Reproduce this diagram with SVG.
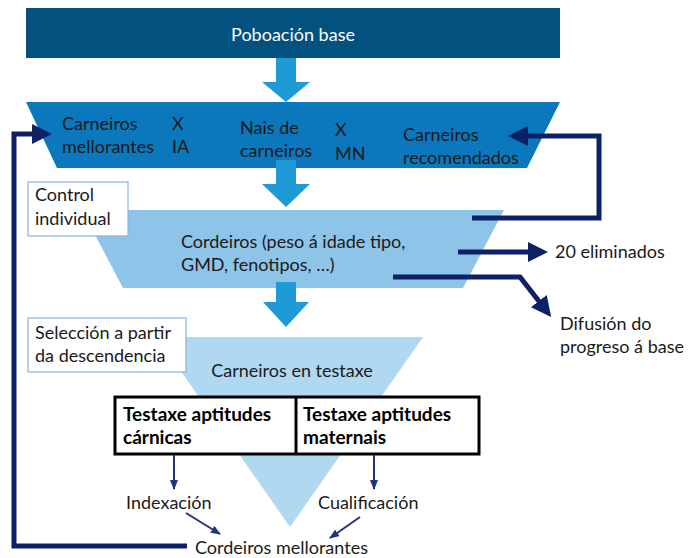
<svg xmlns="http://www.w3.org/2000/svg" width="688" height="558" viewBox="0 0 688 558">
<defs>
<style>
text{font-family:Lato,"Liberation Sans",sans-serif;font-size:18px;fill:#1a1a1a}
.w{fill:#ffffff}
.b{font-weight:bold;fill:#000;font-size:19px}
.big{fill:#1E9AD6}
.nav{fill:none;stroke:#0E2167;stroke-width:5}
.thin{fill:none;stroke:#1F3577;stroke-width:2}
.lab{fill:#fff;stroke:#8DB3E2;stroke-width:1.2}
</style>
<marker id="ah" markerWidth="4" markerHeight="4" refX="2" refY="2" orient="auto" markerUnits="strokeWidth"><path d="M0,0 L4,2 L0,4 Z" fill="#0E2167"/></marker>
<marker id="as" markerWidth="10" markerHeight="8" refX="9" refY="4" orient="auto" markerUnits="userSpaceOnUse"><path d="M0,0 L10,4 L0,8 Z" fill="#1F3577"/></marker>
</defs>
<rect width="688" height="558" fill="#fff"/>
<g id="poboacion"><rect x="26" y="8" width="534" height="50" fill="#02517E"/><text class="w" x="293" y="41" text-anchor="middle">Poboación base</text></g>
<g id="arrow1"><path class="big" d="M276,58 H296 V82 H310 L286,102 L262,82 H276 Z"/></g>
<g id="nivel1"><path d="M26,102 H560 L527,168 H57 Z" fill="#0B77BD"/>
<text x="62" y="130">Carneiros</text><text x="62" y="153">mellorantes</text>
<text x="172" y="130">X</text><text x="172" y="153">IA</text>
<text x="240" y="134">Nais de</text><text x="240" y="157">carneiros</text>
<text x="335" y="136">X</text><text x="335" y="160">MN</text>
<text x="403" y="141">Carneiros</text><text x="403" y="164">recomendados</text></g>
<g id="arrow2"><path class="big" d="M276,160 H296 V184 H310 L286,207 L262,184 H276 Z"/></g>
<g id="nivel2"><path d="M82,210 H504 L463,288 H123 Z" fill="#8EC4E8"/>
<text x="181" y="248">Cordeiros (peso á idade tipo,</text><text x="181" y="271">GMD, fenotipos, …)</text></g>
<g id="control"><rect class="lab" x="28" y="182" width="100" height="54"/><text x="35" y="201">Control</text><text x="35" y="225">individual</text></g>
<g id="arrow3"><path class="big" d="M276,282 H296 V302 H309 L286,327 L263,302 H276 Z"/></g>
<g id="nivel3"><path d="M157,337 H423 L290,527 Z" fill="#B0D8F0"/><text x="292" y="377" text-anchor="middle">Carneiros en testaxe</text></g>
<g id="seleccion"><rect class="lab" x="28" y="318" width="158" height="54"/><text x="35" y="339">Selección a partir</text><text x="35" y="362">da descendencia</text></g>
<g id="testaxe"><rect x="115" y="397" width="364" height="57" fill="#fff" stroke="#000" stroke-width="3"/><line x1="296" y1="397" x2="296" y2="454" stroke="#000" stroke-width="3"/>
<text class="b" x="123" y="421">Testaxe aptitudes</text><text class="b" x="123" y="444">cárnicas</text>
<text class="b" x="303" y="421">Testaxe aptitudes</text><text class="b" x="303" y="444">maternais</text></g>
<g id="indexacion"><text x="126" y="509">Indexación</text></g>
<g id="cualificacion"><text x="318" y="509">Cualificación</text></g>
<g id="cordeiros-mellorantes"><text x="195" y="554">Cordeiros mellorantes</text></g>
<g id="eliminados"><text x="555" y="258">20 eliminados</text></g>
<g id="difusion"><text x="560" y="330">Difusión do</text><text x="560" y="353">progreso á base</text></g>
<g id="connectors">
<path class="nav" d="M187,546 H14 V134 H42" marker-end="url(#ah)"/>
<path class="nav" d="M472,218 H599 V136 H518" marker-end="url(#ah)"/>
<path class="nav" d="M458,252 H538" marker-end="url(#ah)"/>
<path class="nav" d="M393,277 H520 L545,309" marker-end="url(#ah)"/>
<path class="thin" d="M174,455 V489" marker-end="url(#as)"/>
<path class="thin" d="M374,455 V489" marker-end="url(#as)"/>
<path class="thin" d="M186,513 L220,534" marker-end="url(#as)"/>
<path class="thin" d="M360,517 L330,538" marker-end="url(#as)"/>
</g>
</svg>
